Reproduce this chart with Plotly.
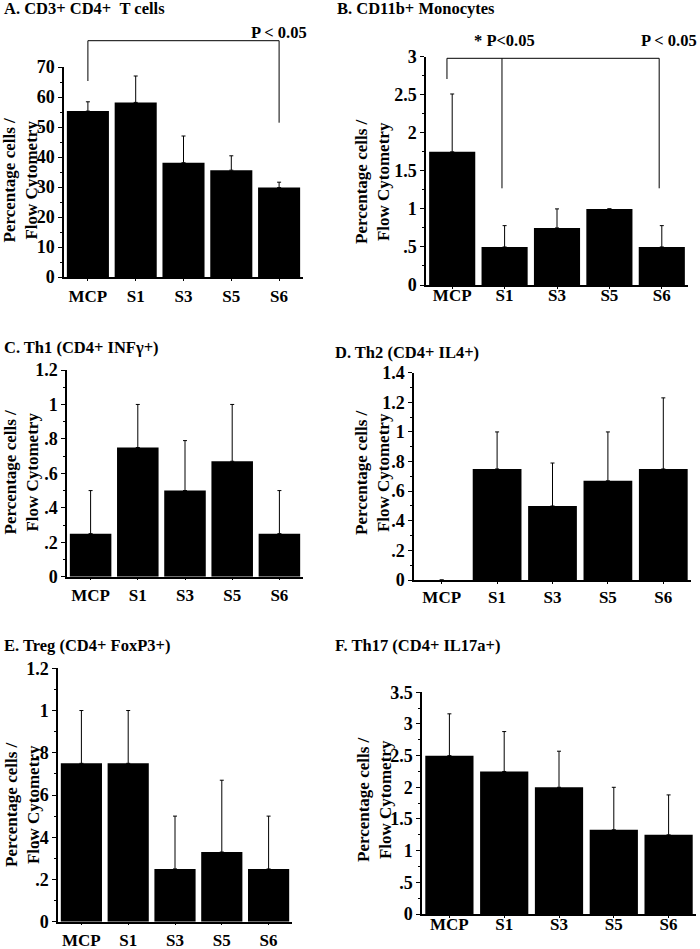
import plotly.graph_objects as go

W, H = 700, 949

categories = ["MCP", "S1", "S3", "S5", "S6"]

# Panel data: mean values and (upper) error magnitudes
a_vals = [55.3, 58.2, 38.1, 35.6, 29.8]
a_err = [3.1, 8.8, 8.9, 4.8, 1.8]
b_vals = [1.75, 0.5, 0.75, 1.0, 0.5]
b_err = [0.76, 0.28, 0.25, None, 0.28]
c_vals = [0.25, 0.75, 0.5, 0.67, 0.25]
c_err = [0.25, 0.25, 0.29, 0.33, 0.25]
d_vals = [0.0, 0.75, 0.5, 0.67, 0.75]
d_err = [None, 0.25, 0.29, 0.33, 0.48]
e_vals = [0.75, 0.75, 0.25, 0.33, 0.25]
e_err = [0.25, 0.25, 0.25, 0.34, 0.25]
f_vals = [2.5, 2.25, 2.0, 1.33, 1.25]
f_err = [0.66, 0.63, 0.57, 0.67, 0.63]

a_ticks = [0, 10, 20, 30, 40, 50, 60, 70]
a_ticktext = ["0", "10", "20", "30", "40", "50", "60", "70"]
b_ticks = [0, 0.5, 1, 1.5, 2, 2.5, 3]
b_ticktext = ["0", ".5", "1", "1.5", "2", "2.5", "3"]
ce_ticks = [0, 0.2, 0.4, 0.6, 0.8, 1.0, 1.2]
ce_ticktext = ["0", ".2", ".4", ".6", ".8", "1", "1.2"]
d_ticks = [0, 0.2, 0.4, 0.6, 0.8, 1.0, 1.2, 1.4]
d_ticktext = ["0", ".2", ".4", ".6", ".8", "1", "1.2", "1.4"]
f_ticks = [0, 0.5, 1, 1.5, 2, 2.5, 3, 3.5]
f_ticktext = ["0", ".5", "1", "1.5", "2", "2.5", "3", "3.5"]

titles = ["A. CD3+ CD4+\u00a0\u00a0T cells", "B. CD11b+ Monocytes", "C. Th1 (CD4+ INF\u03b3+)",
          "D. Th2 (CD4+ IL4+)", "E. Treg (CD4+ FoxP3+)", "F. Th17 (CD4+ IL17a+)"]
ytitle = "Percentage cells /<br>Flow Cytometry"

FONT = "Liberation Serif"

panels = [
    # vals, err, ticks, ticktext, ymax, minor dtick, x px domain, y px domain (top, bottom), label standoff
    (a_vals, a_err, a_ticks, a_ticktext, 70, 5, (64, 303), (67, 277), 1),
    (b_vals, b_err, b_ticks, b_ticktext, 3, 0.25, (426, 688), (56.7, 285), -8),
    (c_vals, c_err, ce_ticks, ce_ticktext, 1.2, 0.1, (67, 303), (370, 576.7), 0),
    (d_vals, d_err, d_ticks, d_ticktext, 1.4, 0.1, (414, 691), (372.7, 580), -1),
    (e_vals, e_err, ce_ticks, ce_ticktext, 1.2, 0.1, (58, 292), (668.3, 921.7), 0),
    (f_vals, f_err, f_ticks, f_ticktext, 3.5, 0.25, (422, 696), (692.3, 914), -8),
]

fig = go.Figure()
layout = {}
for i, (vals, err, tv, tt, ymax, mdt, xd, yd, stand) in enumerate(panels):
    n = "" if i == 0 else str(i + 1)
    fig.add_trace(go.Bar(
        x=categories, y=vals, xaxis="x" + n, yaxis="y" + n,
        marker=dict(color="black", line=dict(width=0)),
        error_y=dict(type="data", symmetric=False, array=err, arrayminus=[0] * len(err),
                     color="black", thickness=1, width=2),
        showlegend=False,
    ))
    layout["xaxis" + n] = dict(
        domain=[xd[0] / W, xd[1] / W], anchor="y" + n, range=[-0.5, 4.5],
        showline=True, linecolor="black", linewidth=1.5, showgrid=False, zeroline=False,
        ticks="outside", ticklen=2, tickcolor="black", tickwidth=1,
        tickfont=dict(family=FONT, size=17, color="black", weight="bold"),
        ticklabelstandoff=stand, fixedrange=True, automargin=False,
    )
    layout["yaxis" + n] = dict(
        domain=[1 - yd[1] / H, 1 - yd[0] / H], anchor="x" + n, range=[0, ymax],
        showline=True, linecolor="black", linewidth=1.5, showgrid=False, zeroline=False,
        tickmode="array", tickvals=tv, ticktext=tt,
        ticks="outside", ticklen=4, tickcolor="black", tickwidth=1,
        minor=dict(dtick=mdt, ticks="outside", ticklen=2, tickcolor="black", tickwidth=1, showgrid=False),
        tickfont=dict(family=FONT, size=18, color="black", weight="bold"),
        fixedrange=True, automargin=False,
    )

annotations = []
title_pos = [(2, 8), (335, 8), (2, 348), (333, 352), (2, 645), (333, 645)]
for t, (px, py) in zip(titles, title_pos):
    annotations.append(dict(text=t, xref="paper", yref="paper", x=px / W, y=1 - py / H,
                            xanchor="left", yanchor="middle", showarrow=False,
                            font=dict(family=FONT, size=16.5, color="black", weight="bold")))

ytitle_pos = [(19.5, 180), (372, 182), (21.5, 472), (372, 473), (22, 805), (374, 800)]
for px, py in ytitle_pos:
    annotations.append(dict(text=ytitle, xref="paper", yref="paper", x=px / W, y=1 - py / H,
                            xanchor="center", yanchor="middle", textangle=-90, showarrow=False,
                            font=dict(family=FONT, size=17, color="black", weight="bold")))

# significance labels
sig_font = dict(family=FONT, size=16.5, color="black", weight="bold")
annotations.append(dict(text="P < 0.05", xref="x", yref="paper", x=4, y=1 - 32 / H,
                        xanchor="center", yanchor="middle", showarrow=False, font=sig_font))
annotations.append(dict(text="* P<0.05", xref="x2", yref="paper", x=1, y=1 - 40 / H,
                        xanchor="center", yanchor="middle", showarrow=False, font=sig_font))
annotations.append(dict(text="P < 0.05", xref="paper", yref="paper", x=699 / W, y=1 - 40 / H,
                        xanchor="right", yanchor="middle", showarrow=False, font=sig_font))

ln = dict(color="black", width=1)
shapes = [
    # Panel A bracket
    dict(type="line", xref="x", yref="paper", x0=0, x1=4, y0=1 - 40.7 / H, y1=1 - 40.7 / H, line=ln),
    dict(type="line", xref="x", yref="paper", x0=0, x1=0, y0=1 - 40.7 / H, y1=1 - 81 / H, line=ln),
    dict(type="line", xref="x", yref="paper", x0=4, x1=4, y0=1 - 40.7 / H, y1=1 - 122.7 / H, line=ln),
    # Panel B bracket
    dict(type="line", xref="x2", yref="paper", x0=-0.1, x1=3.95, y0=1 - 58.3 / H, y1=1 - 58.3 / H, line=ln),
    dict(type="line", xref="x2", yref="paper", x0=-0.1, x1=-0.1, y0=1 - 58.3 / H, y1=1 - 79 / H, line=ln),
    dict(type="line", xref="x2", yref="paper", x0=0.95, x1=0.95, y0=1 - 58.3 / H, y1=1 - 188.3 / H, line=ln),
    dict(type="line", xref="x2", yref="paper", x0=3.95, x1=3.95, y0=1 - 58.3 / H, y1=1 - 188.3 / H, line=ln),
]

fig.update_layout(
    width=W, height=H, margin=dict(l=0, r=0, t=0, b=0, autoexpand=False),
    paper_bgcolor="white", plot_bgcolor="white",
    bargap=0.12, annotations=annotations, shapes=shapes,
    **layout,
)

fig.write_html(
    "out.html",
    config={"displayModeBar": False},
    post_script="document.body.style.margin='0px';document.body.style.overflow='hidden';",
)
